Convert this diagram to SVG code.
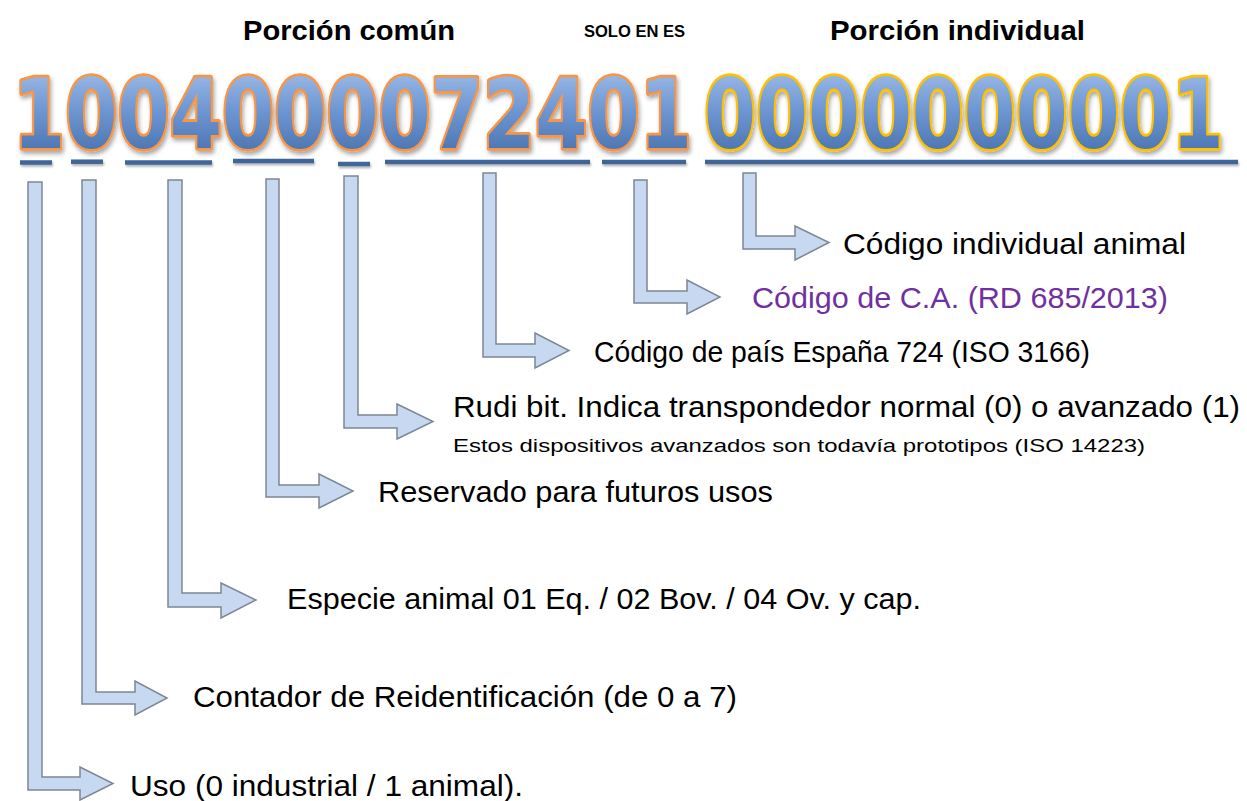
<svg xmlns="http://www.w3.org/2000/svg" width="1247" height="801" viewBox="0 0 1247 801">
<defs>
<linearGradient id="dg" x1="0" y1="0" x2="0" y2="1">
<stop offset="0" stop-color="#A9C4EC"/>
<stop offset="0.45" stop-color="#6E97D3"/>
<stop offset="1" stop-color="#3D67A3"/>
</linearGradient>
<filter id="sh" x="-5%" y="-20%" width="110%" height="150%">
<feDropShadow dx="1.5" dy="3" stdDeviation="2" flood-color="#000" flood-opacity="0.35"/>
</filter>
<filter id="ls" x="-5%" y="-100%" width="110%" height="400%">
<feDropShadow dx="1" dy="2" stdDeviation="1.2" flood-color="#000" flood-opacity="0.3"/>
</filter>
</defs>
<style>
.hdr{font-family:"Liberation Sans",Arial,sans-serif;font-weight:bold;fill:#000}
.lbl{font-family:"Liberation Sans",Arial,sans-serif;font-size:29px;fill:#000}
.sm{font-family:"Liberation Sans",Arial,sans-serif;font-size:19px;fill:#000}
.dig{font-family:"DejaVu Sans","Liberation Sans",sans-serif;font-weight:bold;font-size:96px;fill:url(#dg);stroke-width:5.5;stroke-linejoin:round;paint-order:stroke}
.ul{stroke:#3F6598;stroke-width:4.5;fill:none}
.arr{fill:#C6D9F1;stroke:#7D8794;stroke-width:1.5;stroke-linejoin:miter}
</style>

<g id="headers">
<line x1="10" y1="55.5" x2="592" y2="55.5" stroke="#F79646" stroke-width="5" filter="url(#ls)"/>
<line x1="591" y1="56" x2="688" y2="56" stroke="#8064A2" stroke-width="6" filter="url(#ls)"/>
<line x1="699" y1="55.5" x2="1238" y2="55.5" stroke="#F79646" stroke-width="5" filter="url(#ls)"/>
<text class="hdr" x="243" y="40" font-size="28" textLength="212" lengthAdjust="spacingAndGlyphs">Porción común</text>
<text class="hdr" x="584" y="37" font-size="16" textLength="101" lengthAdjust="spacingAndGlyphs">SOLO EN ES</text>
<text class="hdr" x="830" y="40" font-size="28" textLength="255" lengthAdjust="spacingAndGlyphs">Porción individual</text>
</g>

<g id="number" filter="url(#sh)">
<text class="dig" transform="translate(13,148) scale(0.782,1)" x="0" y="0" stroke="#F79646">1004000072401</text>
<text class="dig" transform="translate(704,148) scale(0.778,1)" x="0" y="0" stroke="#FFC000">0000000001</text>
</g>

<g id="underlines" filter="url(#ls)">
<line class="ul" x1="20" y1="162.5" x2="52" y2="162.5"/>
<line class="ul" x1="71" y1="161.7" x2="103" y2="161.7"/>
<line class="ul" x1="125" y1="162.5" x2="212" y2="162.5"/>
<line class="ul" x1="233" y1="161" x2="314" y2="161"/>
<line class="ul" x1="338" y1="164" x2="370" y2="164"/>
<line class="ul" x1="385" y1="162" x2="590" y2="162"/>
<line class="ul" x1="602" y1="162" x2="686" y2="162"/>
<line class="ul" x1="705" y1="162" x2="1238" y2="162"/>
</g>

<g id="connectors">
<path class="arr" d="M28,182 H42 V777 H80 V767 L113,783.5 L80,800 V790 H28 Z"/>
<path class="arr" d="M82,180 H96 V692 H135 V681 L167,698 L135,715 V704 H82 Z"/>
<path class="arr" d="M168,180 H182 V593 H221 V583 L256,600 L221,618 V607 H168 Z"/>
<path class="arr" d="M266,179 H279 V485 H319 V474 L353,491 L319,508 V497 H266 Z"/>
<path class="arr" d="M344,176 H358 V415 H397 V404 L433,421.5 L397,439 V428 H344 Z"/>
<path class="arr" d="M483,173 H496 V344 H535 V333 L569,350.5 L535,368 V357 H483 Z"/>
<path class="arr" d="M634,180 H647 V291 H687 V280 L720,297 L687,314 V303 H634 Z"/>
<path class="arr" d="M743,173 H756 V236 H795 V226 L829,242.5 L795,260 V249 H743 Z"/>
</g>

<g id="lbl-individual"><text class="lbl" x="843" y="254" textLength="343" lengthAdjust="spacingAndGlyphs">Código individual animal</text></g>
<g id="lbl-ca"><text class="lbl" x="752" y="308" textLength="416" lengthAdjust="spacingAndGlyphs" style="fill:#7030A0">Código de C.A. (RD 685/2013)</text></g>
<g id="lbl-pais"><text class="lbl" x="594" y="362" textLength="496" lengthAdjust="spacingAndGlyphs">Código de país España 724 (ISO 3166)</text></g>
<g id="lbl-rudi">
<text class="lbl" x="453" y="417" textLength="787" lengthAdjust="spacingAndGlyphs">Rudi bit. Indica transpondedor normal (0) o avanzado (1)</text>
<text class="sm" x="453" y="452" textLength="692" lengthAdjust="spacingAndGlyphs">Estos dispositivos avanzados son todavía prototipos (ISO 14223)</text>
</g>
<g id="lbl-reservado"><text class="lbl" x="378" y="502" textLength="395" lengthAdjust="spacingAndGlyphs">Reservado para futuros usos</text></g>
<g id="lbl-especie"><text class="lbl" x="287" y="609" textLength="634" lengthAdjust="spacingAndGlyphs">Especie animal 01 Eq. / 02 Bov. / 04 Ov. y cap.</text></g>
<g id="lbl-contador"><text class="lbl" x="193" y="707" textLength="544" lengthAdjust="spacingAndGlyphs">Contador de Reidentificación (de 0 a 7)</text></g>
<g id="lbl-uso"><text class="lbl" x="130" y="796" textLength="393" lengthAdjust="spacingAndGlyphs">Uso (0 industrial / 1 animal).</text></g>
</svg>
